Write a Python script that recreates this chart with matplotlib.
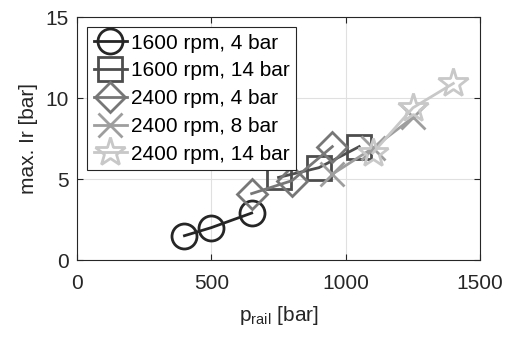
import matplotlib.pyplot as plt

plt.rcParams['font.family'] = ['Liberation Sans', 'DejaVu Sans']

# --- DATA ---
labels = ['1600 rpm, 4 bar', '1600 rpm, 14 bar', '2400 rpm, 4 bar',
          '2400 rpm, 8 bar', '2400 rpm, 14 bar']
p_rail = [
    [400, 500, 650],
    [750, 900, 1050],
    [650, 800, 950],
    [950, 1100, 1250],
    [1100, 1250, 1400],
]
max_ir = [
    [1.5, 2.0, 2.9],
    [5.1, 5.7, 7.0],
    [4.1, 4.9, 7.0],
    [5.3, 6.9, 8.8],
    [6.6, 9.4, 10.9],
]
markers = ['o', 's', 'D', 'x', '*']
colors = ['#262626', '#4d4d4d', '#777777', '#9e9e9e', '#c8c8c8']
sizes = [18, 17, 15, 17, 22]

fig = plt.figure(figsize=(5.06, 3.41), dpi=100)
ax = fig.add_axes([0.152, 0.2375, 0.797, 0.7125])

for x, y, lab, m, c, s in zip(p_rail, max_ir, labels, markers, colors, sizes):
    ax.plot(x, y, marker=m, color=c, markersize=s, markerfacecolor='none',
            markeredgewidth=2, linewidth=2, label=lab)

ax.set_xlim(0, 1500)
ax.set_ylim(0, 15)
ax.set_xticks([0, 500, 1000, 1500])
ax.set_yticks([0, 5, 10, 15])
ax.grid(True, color='#e0e0e0', linewidth=0.8)
ax.set_axisbelow(True)
ax.tick_params(direction='in', top=True, right=True, labelsize=15,
               colors='#262626', length=4)
ax.tick_params(axis='x', pad=10)
ax.tick_params(axis='y', pad=6)
for sp in ax.spines.values():
    sp.set_color('#262626')
    sp.set_linewidth(0.8)

ax.set_xlabel('p$_\\mathregular{rail}$ [bar]', fontsize=15, color='#262626',
              labelpad=8)
ax.set_ylabel('max. Ir [bar]', fontsize=15, color='#262626', labelpad=5)

leg = ax.legend(loc='upper left', fontsize=15, fancybox=False, framealpha=1,
                edgecolor='#262626', handlelength=1.6, handletextpad=0.2,
                borderpad=0.3, labelspacing=0.42, borderaxespad=0.5)
leg.get_frame().set_linewidth(0.8)

fig.savefig('out.png', dpi=100)
